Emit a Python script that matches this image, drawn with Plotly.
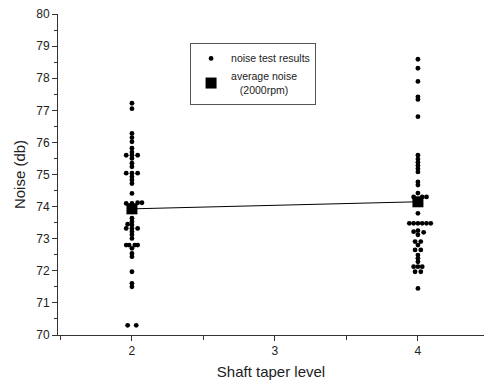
import plotly.graph_objects as go

# ---- data ----
lvl2_x = [2, 2, 2, 2, 2, 2, 2, 1.96, 2, 2.04, 2, 2, 2, 1.96, 2, 2.04, 2, 2, 2, 2,
          1.96, 2, 2.04, 2.07, 2, 2, 1.97, 2, 1.96, 2, 2.04, 2, 2, 2,
          1.96, 1.98, 2.02, 2.04, 2, 2, 2, 2, 2, 2, 1.97, 2.03]
lvl2_y = [77.22, 77.05, 76.28, 76.15, 76.02, 75.82, 75.7, 75.6, 75.6, 75.6, 75.5, 75.35, 75.24,
          75.04, 75.04, 75.04, 74.93, 74.83, 74.72, 74.41,
          74.1, 74.1, 74.12, 74.12, 73.64, 73.53, 73.45, 73.43, 73.32, 73.32, 73.32, 73.22, 73.12, 73.01,
          72.8, 72.8, 72.8, 72.8, 72.7, 72.54, 72.44, 71.97, 71.61, 71.5, 70.3, 70.3]

lvl4_x = [4, 4, 4, 4, 4, 4, 4, 4, 4, 4, 4, 4, 4, 4, 4, 3.97, 4.03, 4.06, 4,
          3.94, 3.97, 4, 4.03, 4.06, 4.09, 3.97, 4, 4.04, 4, 3.98, 4.02, 4,
          3.98, 4.02, 4, 4, 4, 3.97, 4, 4.03, 3.98, 4.02, 4]
lvl4_y = [78.59, 78.31, 77.9, 77.42, 77.34, 76.8, 75.6, 75.48, 75.38, 75.28, 75.18, 75.08,
          74.77, 74.67, 74.42, 74.3, 74.3, 74.3, 73.79,
          73.48, 73.48, 73.48, 73.48, 73.48, 73.48, 73.22, 73.25, 73.2, 73.12, 72.91, 72.91, 72.8,
          72.65, 72.65, 72.49, 72.39, 72.28, 72.13, 72.13, 72.13, 71.97, 71.97, 71.45]

avg_x = [2, 4]
avg_y = [73.93, 74.15]

x_ticks = [2, 3, 4]
y_ticks = [70, 71, 72, 73, 74, 75, 76, 77, 78, 79, 80]

FONT = "Liberation Sans, Arial, sans-serif"

fig = go.Figure()
fig.add_trace(go.Scatter(x=avg_x, y=avg_y, mode="lines", line=dict(color="black", width=1),
                         showlegend=False, hoverinfo="skip"))
fig.add_trace(go.Scatter(x=lvl2_x + lvl4_x, y=lvl2_y + lvl4_y, mode="markers",
                         marker=dict(color="black", size=4.8, symbol="circle"),
                         name="noise test results"))
fig.add_trace(go.Scatter(x=avg_x, y=avg_y, mode="markers",
                         marker=dict(color="black", size=11, symbol="square"),
                         name="average noise<br>\u00a0\u00a0\u00a0(2000rpm)"))

axis_common = dict(showgrid=False, zeroline=False, showline=True, linecolor="#333",
                   linewidth=1, ticks="outside", ticklen=5, tickcolor="#333",
                   tickfont=dict(family=FONT, size=12, color="#222"))

fig.update_xaxes(range=[1.483, 4.462], tickvals=x_ticks, ticktext=[str(v) for v in x_ticks],
                 minor=dict(dtick=0.5, tick0=1.5, ticks="outside", ticklen=4, tickcolor="#333"),
                 title=dict(text="Shaft taper level", font=dict(family=FONT, size=15, color="#222"),
                            standoff=9),
                 **axis_common)
fig.update_yaxes(range=[70, 80], tickvals=y_ticks, ticktext=[str(v) for v in y_ticks],
                 minor=dict(dtick=0.5, ticks="outside", ticklen=3, tickcolor="#333"),
                 title=dict(text="Noise (db)", font=dict(family=FONT, size=15, color="#222"),
                            standoff=6),
                 **axis_common)

fig.update_layout(
    width=484, height=384,
    margin=dict(l=58, r=0, t=14, b=49),
    plot_bgcolor="white", paper_bgcolor="white",
    font=dict(family=FONT, color="#222"),
    legend=dict(x=0.31, y=0.91, xanchor="left", yanchor="top",
                bordercolor="#555", borderwidth=1, bgcolor="white",
                font=dict(family=FONT, size=10.5, color="#222"),
                tracegroupgap=0, itemwidth=30),
)

fig.write_html("out.html")
